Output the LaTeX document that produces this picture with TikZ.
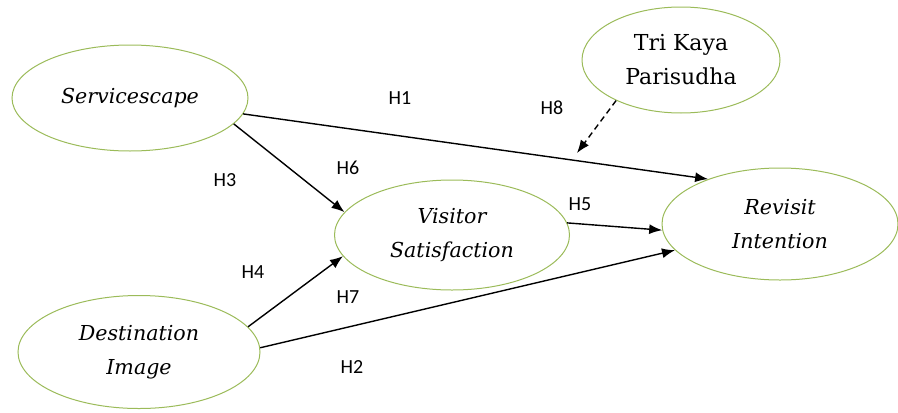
\documentclass[tikz,border=0pt]{standalone}
\usepackage{fontspec}
\setmainfont{DejaVu Serif}
\newfontfamily\lblfont{Carlito}
\usetikzlibrary{shapes.geometric,arrows.meta}
\definecolor{rimgreen}{RGB}{155,187,89}
\begin{document}
\begin{tikzpicture}[x=0.5pt,y=-0.5pt,
  var/.style={ellipse,draw=rimgreen,line width=0.5pt,inner sep=0pt,align=center,
    font=\fontsize{10.3}{17}\selectfont\itshape},
  hyp/.style={font=\lblfont\fontsize{10}{12}\selectfont,inner sep=0pt},
  link/.style={-{Latex[length=6.5pt,width=5pt]},line width=0.7pt}]
\useasboundingbox (0,0) rectangle (898,412);
% constructs
\node[var,minimum width=118pt,minimum height=53pt] (S) at (130,98) {Servicescape};
\node[var,minimum width=121pt,minimum height=56.5pt] (D) at (139,352) {Destination\\Image};
\node[var,minimum width=117.5pt,minimum height=55pt] (V) at (452,235) {Visitor\\Satisfaction};
\node[var,minimum width=118pt,minimum height=56pt] (R) at (780,224) {Revisit\\Intention};
\node[var,font=\fontsize{11}{17}\selectfont,minimum width=99pt,minimum height=53pt] (T) at (681,60) {Tri Kaya\\Parisudha};
\coordinate (M) at (577,153);
% paths
\draw[link] (S.-8) -- (R.148);
\draw[link] (S.-14) -- (V.168);
\draw[link] (D.13) -- (V.191);
\draw[link] (V.6) -- (R.183);
\draw[link] (D.2) -- (R.194);
\draw[link,dash pattern=on 3pt off 2pt] (T.212) -- (M);
% hypotheses
\node[hyp] (h1) at (400,98) {H1};
\node[hyp] (h2) at (352,367) {H2};
\node[hyp] (h3) at (225,180) {H3};
\node[hyp] (h4) at (253,272) {H4};
\node[hyp] (h5) at (580,204) {H5};
\node[hyp] (h6) at (348,168) {H6};
\node[hyp] (h7) at (348,297) {H7};
\node[hyp] (h8) at (552,108) {H8};
\end{tikzpicture}
\end{document}
